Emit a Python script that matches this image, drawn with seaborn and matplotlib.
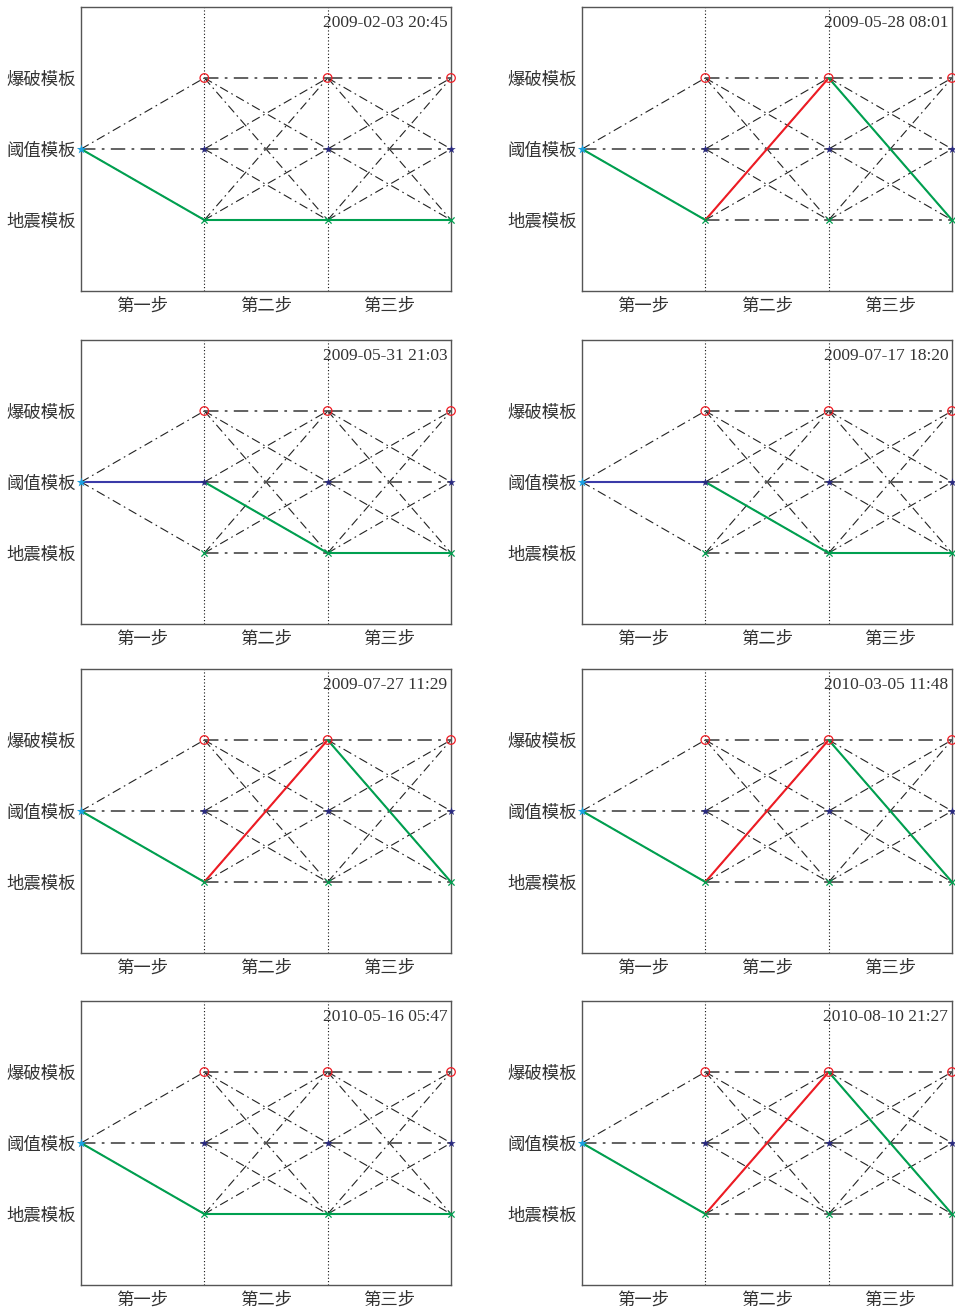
import numpy as np
import pandas as pd
import matplotlib
matplotlib.use('Agg')
import matplotlib.pyplot as plt
import seaborn as sns

# ---------------- data ----------------
dates = ['2009-02-03 20:45', '2009-05-28 08:01', '2009-05-31 21:03', '2009-07-17 18:20',
         '2009-07-27 11:29', '2010-03-05 11:48', '2010-05-16 05:47', '2010-08-10 21:27']
step_labels = ['第一步', '第二步', '第三步']
step_centers = [0.5, 1.5, 2.5]
template_labels = ['地震模板', '阈值模板', '爆破模板']
template_levels = [1, 2, 3]
stage_x = [0, 1, 2, 3]
start_level = 2
# chosen template level at each stage (x = 0,1,2,3)
path_levels = [[2, 1, 1, 1], [2, 1, 3, 1], [2, 2, 1, 1], [2, 2, 1, 1],
               [2, 1, 3, 1], [2, 1, 3, 1], [2, 1, 1, 1], [2, 1, 3, 1]]
# segment kind per panel
path_kinds = [['g', 'g', 'g'], ['g', 'r', 'g'], ['b', 'g', 'g'], ['b', 'g', 'g'],
              ['g', 'r', 'g'], ['g', 'r', 'g'], ['g', 'g', 'g'], ['g', 'r', 'g']]

kind_color = {'g': '#00a050', 'r': '#ee1c24', 'b': '#3a3aa8'}

# ---------------- edges table ----------------
rows = []
eid = 0
for lv in template_levels:
    rows.append((eid, stage_x[0], start_level)); rows.append((eid, stage_x[1], lv)); eid += 1
for s in range(1, 3):
    for a in template_levels:
        for b in template_levels:
            rows.append((eid, stage_x[s], a)); rows.append((eid, stage_x[s + 1], b)); eid += 1
edges = pd.DataFrame(rows, columns=['edge', 'x', 'y'])
flat = edges.groupby('edge')['y'].transform(lambda v: v.nunique() == 1)
edges_h = edges[flat]
edges_d = edges[~flat]

sns.set_theme(style='white')
plt.rcParams['font.family'] = ['Noto Sans CJK SC', 'DejaVu Sans']

fig = plt.figure(figsize=(9.55, 13.11), dpi=100)
W, H = 955, 1311
col_left = [81, 582]
row_top = [7, 340, 669, 1001]
aw, ah = 370, 284

dash = (0, (8, 3.5, 1.5, 3.5))
for i, d in enumerate(dates):
    r, c = divmod(i, 2)
    ax = fig.add_axes([col_left[c] / W, 1 - (row_top[r] + ah) / H, aw / W, ah / H])
    sns.lineplot(data=edges_d, x='x', y='y', units='edge', estimator=None, ax=ax,
                 color='#222222', lw=0.8, linestyle=dash, sort=False)
    sns.lineplot(data=edges_h, x='x', y='y', units='edge', estimator=None, ax=ax,
                 color='#555555', lw=1.3, linestyle=dash, sort=False)
    for xv in stage_x[1:3]:
        ax.axvline(xv, color='#111111', lw=0.8, ls=(0, (1, 2)), zorder=1)
    pl = path_levels[i]
    for k in range(3):
        sns.lineplot(x=[stage_x[k], stage_x[k + 1]], y=[pl[k], pl[k + 1]], ax=ax,
                     color=kind_color[path_kinds[i][k]], lw=1.5, zorder=4)
    xs = stage_x[1:]
    sns.scatterplot(x=xs, y=[3] * 3, ax=ax, marker='o', s=38, facecolor='none',
                    edgecolor='#ee1c24', linewidth=0.9, zorder=5, clip_on=False)
    sns.scatterplot(x=xs, y=[2] * 3, ax=ax, marker='*', s=40, color='#2a2a80',
                    linewidth=0, zorder=5, clip_on=False)
    sns.scatterplot(x=xs, y=[1] * 3, ax=ax, marker='x', s=20, color='#00a050',
                    linewidth=0.9, zorder=5, clip_on=False)
    sns.scatterplot(x=[stage_x[0]], y=[start_level], ax=ax, marker='*', s=50,
                    color='#1aa0e0', linewidth=0, zorder=6, clip_on=False)
    ax.set_xlim(0, 3)
    ax.set_ylim(0, 4)
    ax.set_xticks(step_centers)
    ax.set_xticklabels(step_labels, fontsize=12.5, color='#333333')
    ax.set_yticks(template_labels and template_levels)
    ax.set_yticklabels(template_labels, fontsize=12.5, color='#333333')
    ax.tick_params(axis='y', length=0, pad=4)
    ax.tick_params(axis='x', length=0, pad=4)
    ax.set_xlabel('')
    ax.set_ylabel('')
    for sp in ax.spines.values():
        sp.set_color('#555555')
        sp.set_linewidth(1.0)
    ax.text(0.99, 0.945, d, transform=ax.transAxes, ha='right', va='center',
            fontsize=12.5, color='#333333', family=['Liberation Serif', 'DejaVu Serif'])

fig.savefig('out.png', dpi=100)
